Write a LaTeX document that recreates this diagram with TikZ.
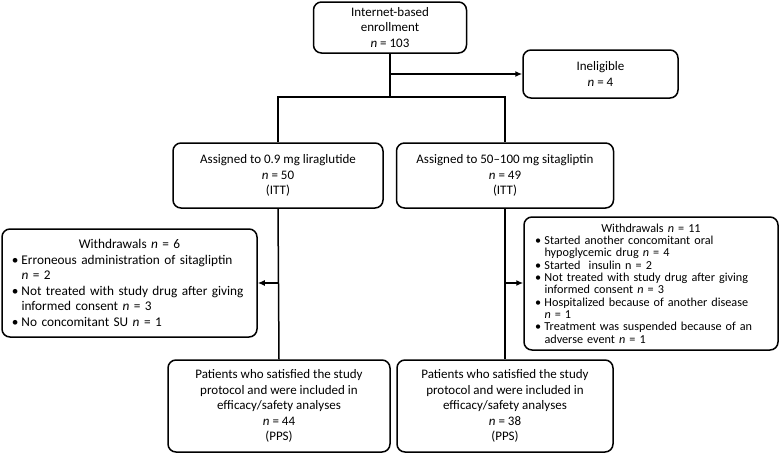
\documentclass[tikz,border=0pt]{standalone}
\usepackage{fontspec}
\setmainfont{Carlito}
\usetikzlibrary{arrows.meta}
\tikzset{
  box/.style={draw, line width=1.5pt, rounded corners=8pt, align=center,
    inner sep=1pt, font=\fontsize{13pt}{15.5pt}\selectfont},
  wbox/.style={draw, line width=1.5pt, rounded corners=8pt, align=left,
    inner sep=0pt},
  link/.style={line width=1.5pt},
  arr/.style={line width=1.5pt, -{Latex[length=7pt,width=6pt]}}
}
\newcommand{\nn}{\textit{n}}
\newcommand{\wb}{\makebox[9.5pt][l]{\textbullet}}
\newcommand{\wi}{\hspace*{9.5pt}}
\begin{document}
\begin{tikzpicture}[x=1pt,y=-1pt]
  \useasboundingbox (0,0) rectangle (780,456);
  \node[box, minimum width=153pt, minimum height=51pt] (enroll) at (390,27.5)
    {Internet-based\\enrollment\\\nn{} = 103};
  \node[box, minimum width=155pt, minimum height=48pt] (inel) at (600.5,74)
    {Ineligible\\\nn{} = 4};
  \node[box, minimum width=210pt, minimum height=65pt] (lira) at (278,175.5)
    {Assigned to 0.9 mg liraglutide\\\nn{} = 50\\(ITT)};
  \node[box, minimum width=217pt, minimum height=65pt] (sita) at (505,175.5)
    {Assigned to 50--100 mg sitagliptin\\\nn{} = 49\\(ITT)};
  \node[wbox, text width=235pt, minimum width=255pt, minimum height=108pt,
    font=\fontsize{13.3pt}{15.5pt}\selectfont] (wl) at (129.5,283)
    {\makebox[\hsize][c]{Withdrawals \nn{} = 6}\\
     \wb Erroneous administration of sitagliptin\\
     \wi\nn{} = 2\\
     \wb Not treated with study drug after giving\\
     \wi informed consent \nn{} = 3\\
     \wb No concomitant SU \nn{} = 1};
  \node[wbox, text width=232pt, minimum width=254pt, minimum height=133pt,
    font=\fontsize{12.2pt}{12.3pt}\selectfont] (wr) at (651,283.5)
    {\makebox[\hsize][c]{Withdrawals \nn{} = 11}\\
     \wb Started another concomitant oral\\
     \wi hypoglycemic drug \nn{} = 4\\
     \wb Started\ \ insulin n = 2\\
     \wb Not treated with study drug after giving\\
     \wi informed consent \nn{} = 3\\
     \wb Hospitalized because of another disease\\
     \wi\nn{} = 1\\
     \wb Treatment was suspended because of an\\
     \wi adverse event \nn{} = 1};
  \node[box, minimum width=222pt, minimum height=92pt] (ppsl) at (279,406)
    {Patients who satisfied the study\\protocol and were included in\\efficacy/safety analyses\\\nn{} = 44\\(PPS)};
  \node[box, minimum width=216pt, minimum height=92pt] (ppsr) at (505,406)
    {Patients who satisfied the study\\protocol and were included in\\efficacy/safety analyses\\\nn{} = 38\\(PPS)};
  % enrollment split
  \coordinate (split) at (390,97);
  \draw[link] (enroll.south) -- (split);
  \draw[arr] (enroll.south |- inel.west) -- (inel.west);
  \draw[link] (lira.north) |- (split) -| (sita.north);
  % arms
  \draw[link] (lira.south) -- (ppsl.north);
  \draw[link] (sita.south) -- (ppsr.north);
  \draw[arr] (lira.south |- wl.east) -- (wl.east);
  \draw[arr] (sita.south |- wl.east) -- (wr.west |- wl.east);
\end{tikzpicture}
\end{document}
